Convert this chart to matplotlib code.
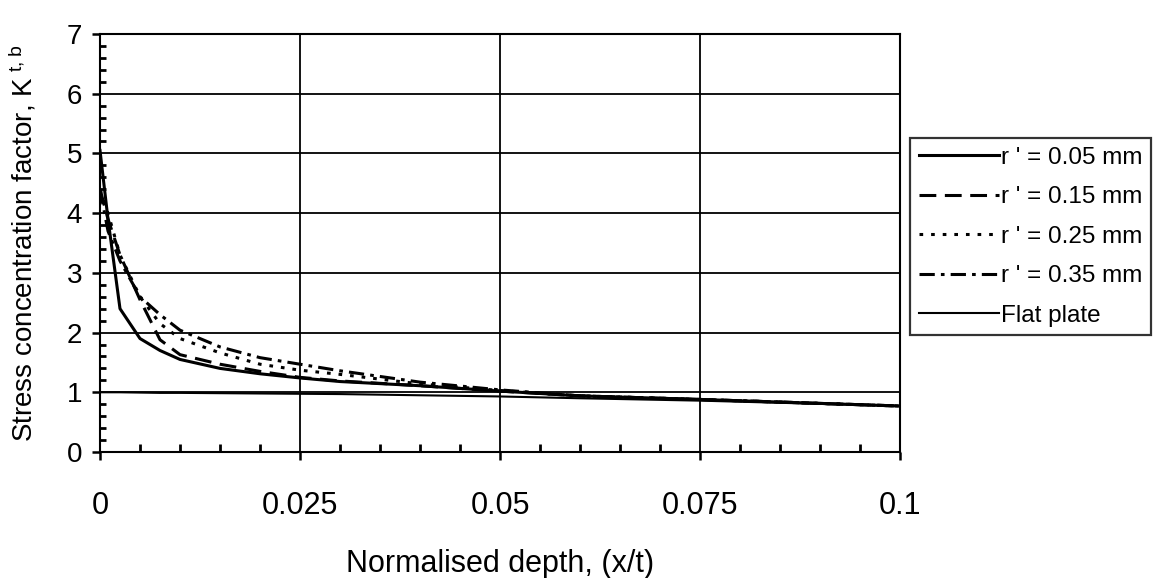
import numpy as np
import matplotlib
matplotlib.use("Agg")
import matplotlib.pyplot as plt
from matplotlib.ticker import MultipleLocator

plt.rcParams['font.family'] = ['Liberation Sans', 'DejaVu Sans']
plt.rcParams['mathtext.default'] = 'regular'

# Normalised depth (x/t)
depth = [0, 0.001, 0.0025, 0.005, 0.0075, 0.01, 0.015, 0.02, 0.025, 0.03,
         0.04, 0.05, 0.06, 0.075, 0.1]

# Stress concentration factor K_t,b for each notch radius
k_r005 = [5.05, 3.9, 2.4, 1.9, 1.70, 1.55, 1.40, 1.31, 1.24, 1.18, 1.11, 1.02, 0.94, 0.88, 0.77]
k_r015 = [4.4, 3.9, 3.3, 2.55, 1.88, 1.63, 1.47, 1.35, 1.25, 1.19, 1.11, 1.02, 0.94, 0.88, 0.77]
k_r025 = [4.4, 4.0, 3.3, 2.6, 2.15, 1.90, 1.66, 1.47, 1.37, 1.30, 1.14, 1.03, 0.94, 0.88, 0.77]
k_r035 = [4.4, 3.7, 3.2, 2.6, 2.3, 2.04, 1.76, 1.58, 1.47, 1.36, 1.17, 1.04, 0.94, 0.88, 0.77]
k_flat = [1.0, 1.0, 1.0, 0.995, 0.99, 0.99, 0.985, 0.98, 0.975, 0.97, 0.95, 0.93, 0.90, 0.86, 0.77]

labels = ["r ' = 0.05 mm", "r ' = 0.15 mm", "r ' = 0.25 mm", "r ' = 0.35 mm", "Flat plate"]
x_ticks = [0, 0.025, 0.05, 0.075, 0.1]
x_ticklabels = ["0", "0.025", "0.05", "0.075", "0.1"]

fig = plt.figure(figsize=(11.59, 5.78), dpi=100)
ax = fig.add_axes([100 / 1159, 1 - 452 / 578, 800 / 1159, 418 / 578])

styles = [
    dict(linestyle='-', lw=2.2),
    dict(linestyle=(0, (5.5, 2.8)), lw=2.2),
    dict(linestyle=(0, (1.2, 2.6)), lw=2.2),
    dict(linestyle=(0, (5.0, 2.0, 1.2, 2.0)), lw=2.2),
    dict(linestyle='-', lw=1.5),
]
series = [k_r005, k_r015, k_r025, k_r035, k_flat]
for ys, lab, st in zip(series, labels, styles):
    ax.plot(depth, ys, color='black', label=lab, **st)

ax.set_xlim(0, 0.1)
ax.set_ylim(0, 7)
ax.set_xticks(x_ticks)
ax.set_xticklabels(x_ticklabels)
ax.xaxis.set_minor_locator(MultipleLocator(0.005))
ax.yaxis.set_major_locator(MultipleLocator(1))
ax.yaxis.set_minor_locator(MultipleLocator(0.2))
ax.grid(True, which='major', color='black', lw=1.3)
ax.set_axisbelow(True)

for sp in ax.spines.values():
    sp.set_linewidth(1.5)
    sp.set_color('black')

ax.tick_params(axis='x', which='major', direction='out', length=6, width=1.8,
               labelsize=22, pad=22)
ax.tick_params(axis='x', which='minor', direction='in', length=6, width=2)
ax.tick_params(axis='y', which='major', direction='out', length=6, width=1.8,
               labelsize=20, pad=7)
ax.tick_params(axis='y', which='minor', direction='in', length=4, width=2)

ax.set_xlabel("Normalised depth, (x/t)", fontsize=22, labelpad=20)
ax.set_ylabel("Stress concentration factor, K$^{\\ t,b}$", fontsize=20, labelpad=20)

leg = ax.legend(loc='upper left', bbox_to_anchor=(910 / 1159, 1 - 138 / 578),
                bbox_transform=fig.transFigure, fontsize=17.5, frameon=True,
                fancybox=False, edgecolor='black', handlelength=3.3,
                handletextpad=0.1, labelspacing=0.72, borderpad=0.35,
                borderaxespad=0)
leg.get_frame().set_linewidth(1.6)

fig.savefig("out.png", dpi=100, facecolor='white')
